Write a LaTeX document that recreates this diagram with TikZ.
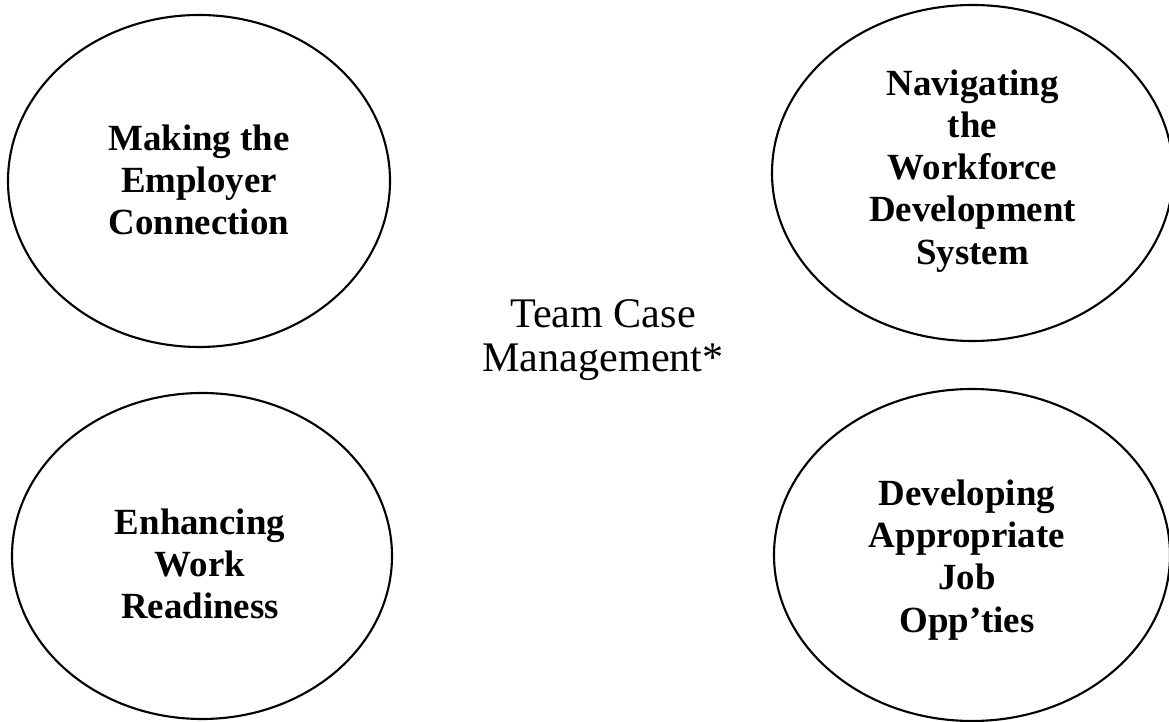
\documentclass[tikz,border=0pt]{standalone}
\usepackage{fontspec}
\setmainfont{Liberation Serif}
\usetikzlibrary{shapes.geometric}

\tikzset{
    bubble/.style={draw, ellipse, line width=0.6pt, inner sep=0pt,
        minimum width=3.82cm, minimum height=3.32cm},
    caption/.style={align=center, font=\bfseries\fontsize{10.5}{12}\selectfont},
    hub/.style={align=center, font=\fontsize{12}{12.6}\selectfont}
}

\begin{document}
\begin{tikzpicture}
    \useasboundingbox (0,0) rectangle (11.69,7.22);
    % the four ellipses
    \node[bubble] (employer) at (1.99,5.41) {};
    \node[bubble, minimum width=4.01cm, minimum height=3.36cm] (navigating) at (9.725,5.49) {};
    \node[bubble, minimum width=3.80cm, minimum height=3.26cm] (readiness) at (2.02,1.66) {};
    \node[bubble, minimum width=3.96cm, minimum height=3.32cm] (jobs) at (9.72,1.67) {};
    % their texts
    \node[caption] (employer text) at ([yshift=0.01cm]employer.center) {Making the\\Employer\\Connection};
    \node[caption] (navigating text) at ([yshift=0.02cm]navigating.center) {Navigating\\the\\Workforce\\Development\\System};
    \node[caption] (readiness text) at ([xshift=-0.02cm, yshift=-0.08cm]readiness.center) {Enhancing\\Work\\Readiness};
    \node[caption] (jobs text) at ([xshift=-0.05cm, yshift=-0.05cm]jobs.center) {Developing\\Appropriate\\Job\\Opp’ties};
    \node[hub] (team) at (6.03,3.82) {Team Case\\Management*};
\end{tikzpicture}
\end{document}
